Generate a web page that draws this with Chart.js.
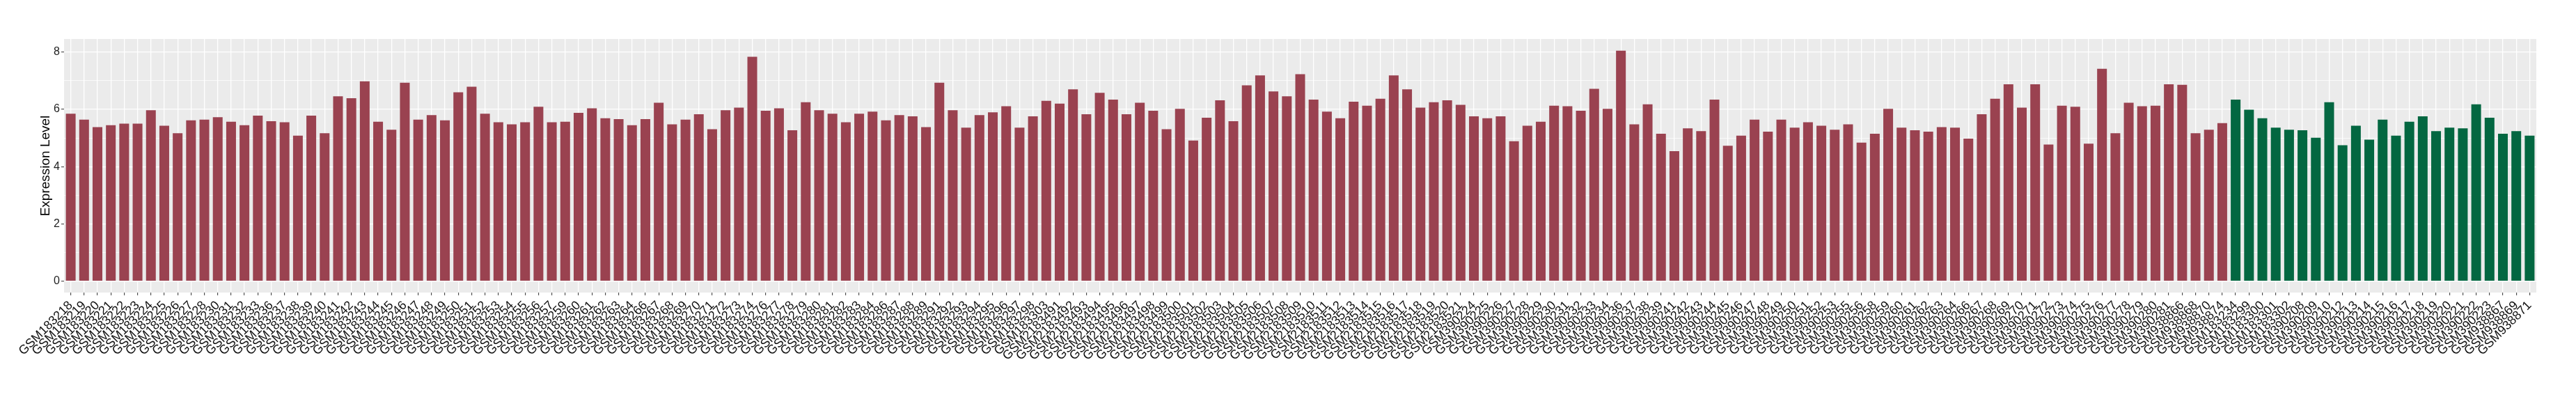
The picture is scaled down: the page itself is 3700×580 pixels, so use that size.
<!DOCTYPE html>
<html>
<head>
<meta charset="utf-8">
<script src="https://cdn.jsdelivr.net/npm/chart.js@4"></script>
<style>
  html, body { margin: 0; padding: 0; background: #ffffff; }
  canvas { display: block; }
</style>
</head>
<body>
<canvas id="exprChart" width="3700" height="580"></canvas>
<script>
// samples of the first group (red)
const redSamples = [
  "GSM183218", "GSM183219", "GSM183220", "GSM183221", "GSM183222", "GSM183223", "GSM183224", "GSM183225",
  "GSM183226", "GSM183227", "GSM183228", "GSM183230", "GSM183231", "GSM183232", "GSM183233", "GSM183236",
  "GSM183237", "GSM183238", "GSM183239", "GSM183240", "GSM183241", "GSM183242", "GSM183243", "GSM183244",
  "GSM183245", "GSM183246", "GSM183247", "GSM183248", "GSM183249", "GSM183250", "GSM183251", "GSM183252",
  "GSM183253", "GSM183254", "GSM183255", "GSM183256", "GSM183257", "GSM183259", "GSM183260", "GSM183261",
  "GSM183262", "GSM183263", "GSM183264", "GSM183266", "GSM183267", "GSM183268", "GSM183269", "GSM183270",
  "GSM183271", "GSM183272", "GSM183273", "GSM183274", "GSM183276", "GSM183277", "GSM183278", "GSM183279",
  "GSM183280", "GSM183281", "GSM183282", "GSM183283", "GSM183284", "GSM183286", "GSM183287", "GSM183288",
  "GSM183289", "GSM183291", "GSM183292", "GSM183293", "GSM183294", "GSM183295", "GSM183296", "GSM183297",
  "GSM183298", "GSM183303",
  "GSM2183491", "GSM2183492", "GSM2183493", "GSM2183494", "GSM2183495", "GSM2183496", "GSM2183497",
  "GSM2183498", "GSM2183499", "GSM2183500", "GSM2183501", "GSM2183502", "GSM2183503", "GSM2183504",
  "GSM2183505", "GSM2183506", "GSM2183507", "GSM2183508", "GSM2183509", "GSM2183510", "GSM2183511",
  "GSM2183512", "GSM2183513", "GSM2183514", "GSM2183515", "GSM2183516", "GSM2183517", "GSM2183518",
  "GSM2183519", "GSM2183520", "GSM2183521",
  "GSM390224", "GSM390225", "GSM390226", "GSM390227", "GSM390228", "GSM390229", "GSM390230", "GSM390231",
  "GSM390232", "GSM390233", "GSM390234", "GSM390236", "GSM390237", "GSM390238", "GSM390239", "GSM390241",
  "GSM390242", "GSM390243", "GSM390244", "GSM390245", "GSM390246", "GSM390247", "GSM390248", "GSM390249",
  "GSM390250", "GSM390251", "GSM390252", "GSM390253", "GSM390255", "GSM390256", "GSM390258", "GSM390259",
  "GSM390260", "GSM390261", "GSM390262", "GSM390263", "GSM390264", "GSM390266", "GSM390267", "GSM390268",
  "GSM390269", "GSM390270", "GSM390271", "GSM390272", "GSM390273", "GSM390274", "GSM390275", "GSM390276",
  "GSM390277", "GSM390278", "GSM390279", "GSM390280", "GSM390281",
  "GSM938866", "GSM938868", "GSM938870", "GSM938874"
];

const redValues = [
  5.85, 5.64, 5.38, 5.45, 5.50, 5.50, 5.97, 5.43, 5.17, 5.62,
  5.64, 5.73, 5.57, 5.45, 5.78, 5.59, 5.55, 5.08, 5.78, 5.17,
  6.46, 6.39, 6.98, 5.57, 5.29, 6.93, 5.64, 5.80, 5.62, 6.60,
  6.79, 5.85, 5.55, 5.48, 5.55, 6.09, 5.55, 5.57, 5.88, 6.04,
  5.69, 5.66, 5.45, 5.66, 6.23, 5.48, 5.64,
  5.83, 5.31, 5.97, 6.06, 7.84, 5.95, 6.04, 5.27, 6.25, 5.97,
  5.85, 5.55, 5.85, 5.92, 5.62, 5.80, 5.76, 5.38, 6.93, 5.97,
  5.36, 5.80, 5.90, 6.11, 5.36, 5.76, 6.30, 6.20, 6.70, 5.83,
  6.58, 6.34, 5.83, 6.23, 5.95, 5.31, 6.02, 4.91, 5.71, 6.32,
  5.59, 6.84, 7.19, 6.63, 6.46, 7.23,
  6.34, 5.92, 5.69, 6.27, 6.13, 6.37, 7.19, 6.70, 6.06, 6.25,
  6.32, 6.16, 5.76, 5.69, 5.76, 4.89, 5.43, 5.57, 6.13, 6.11,
  5.95, 6.72, 6.02, 8.05, 5.48, 6.18, 5.15, 4.54, 5.34, 5.24,
  6.34, 4.73, 5.08, 5.64, 5.22, 5.64, 5.36, 5.55, 5.43, 5.29,
  5.48, 4.84, 5.15, 6.02, 5.36, 5.27,
  5.22, 5.38, 5.36, 4.98, 5.83, 6.37, 6.88, 6.06, 6.88, 4.77,
  6.13, 6.09, 4.80, 7.42, 5.17, 6.23, 6.11, 6.13, 6.88, 6.86,
  5.17, 5.29, 5.52
];

// samples of the second group (green)
const greenSamples = [
  "GSM183234", "GSM183299", "GSM183300", "GSM183301", "GSM183302",
  "GSM390208", "GSM390209", "GSM390210", "GSM390212", "GSM390213", "GSM390214", "GSM390215",
  "GSM390216", "GSM390217", "GSM390218", "GSM390219", "GSM390220", "GSM390221", "GSM390222",
  "GSM390223", "GSM938867", "GSM938869", "GSM938871"
];

const greenValues = [
  6.34, 5.99, 5.69, 5.36, 5.29, 5.27, 5.01, 6.25, 4.75, 5.43,
  4.94, 5.64, 5.08, 5.57, 5.76, 5.24, 5.36, 5.34, 6.18, 5.71,
  5.15, 5.24, 5.08
];

const yTicks = [0, 1, 2, 3, 4, 5, 6, 7, 8];

const RED = "#9A4250";
const GREEN = "#036741";
const FONT = "'Liberation Sans', Arial, Helvetica, sans-serif";

const labels = redSamples.concat(greenSamples);
const values = redValues.concat(greenValues);
const colors = redValues.map(() => RED).concat(greenValues.map(() => GREEN));

// grey ggplot-like panel
const panelBg = {
  id: "panelBg",
  beforeDraw(chart) {
    const { ctx, chartArea: a } = chart;
    ctx.save();
    ctx.fillStyle = "#EBEBEB";
    ctx.fillRect(a.left, a.top, a.right - a.left, a.bottom - a.top);
    ctx.restore();
  }
};

new Chart(document.getElementById("exprChart"), {
  type: "bar",
  data: {
    labels: labels,
    datasets: [{
      data: values,
      backgroundColor: colors,
      borderWidth: 0,
      barPercentage: 0.73,
      categoryPercentage: 1
    }]
  },
  options: {
    responsive: false,
    animation: false,
    devicePixelRatio: 1,
    layout: { padding: { left: 0, right: 57, top: 56, bottom: 0 } },
    plugins: {
      legend: { display: false },
      tooltip: { enabled: false }
    },
    scales: {
      x: {
        offset: true,
        border: { display: false },
        grid: {
          offset: false,
          color: "#FFFFFF",
          lineWidth: 1.3,
          tickColor: "#333333",
          tickLength: 4,
          tickWidth: 1
        },
        ticks: {
          autoSkip: false,
          minRotation: 45,
          maxRotation: 45,
          padding: 4,
          color: "#111111",
          font: { family: FONT, size: 18 }
        },
        afterFit: (scale) => { scale.height = 160; }
      },
      y: {
        min: -0.4,
        max: 8.46,
        border: { display: false },
        afterBuildTicks: (scale) => { scale.ticks = yTicks.map(v => ({ value: v })); },
        grid: {
          color: "#FFFFFF",
          lineWidth: (c) => (c.tick && c.tick.value % 2 === 0 ? 1.3 : 0.7),
          tickColor: (c) => (c.tick && c.tick.value % 2 === 0 ? "#333333" : "rgba(0,0,0,0)"),
          tickLength: 4,
          tickWidth: 1
        },
        ticks: {
          padding: 2,
          color: "#222222",
          font: { family: FONT, size: 16 },
          callback: (v) => (v % 2 === 0 ? String(v) : "")
        },
        title: {
          display: true,
          text: "Expression Level",
          color: "#000000",
          font: { family: FONT, size: 19 },
          padding: { top: 54, bottom: 0 }
        },
        afterFit: (scale) => { scale.width = 92; }
      }
    }
  },
  plugins: [panelBg]
});
</script>
</body>
</html>
